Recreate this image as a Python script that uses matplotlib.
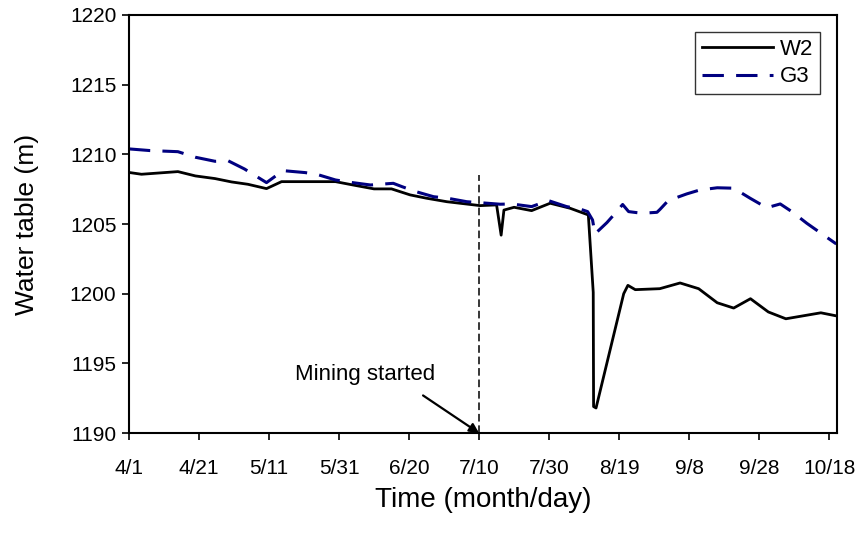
import matplotlib
matplotlib.use('Agg')
from matplotlib import pyplot as plt
from matplotlib.ticker import MultipleLocator

plt.rcParams['font.family'] = ['Liberation Sans', 'DejaVu Sans']

# days since 4/1
w2_day = [0, 3.6, 14, 19, 24.6, 29.3, 34, 39.3, 43.6, 50, 59, 64, 70, 75, 80.3, 85, 90.8,
          100.3, 105, 106.3, 107.1, 110, 115, 120.3, 126, 131.2, 132.6, 132.7, 133.4,
          141.3, 142.5, 144.6, 151.6, 157.4, 162.7, 168, 172.7, 177.5, 182.6, 187.6,
          197.6, 203]
w2_level = [1208.7, 1208.57, 1208.76, 1208.45, 1208.26, 1208.02, 1207.85, 1207.54, 1208.04,
            1208.04, 1208.04, 1207.8, 1207.52, 1207.52, 1207.09, 1206.85, 1206.6,
            1206.32, 1206.37, 1204.2, 1206.0, 1206.2, 1205.96, 1206.49, 1206.13, 1205.65,
            1200.1, 1191.9, 1191.8, 1200.0, 1200.6, 1200.29, 1200.36, 1200.77, 1200.36,
            1199.35, 1198.97, 1199.64, 1198.69, 1198.2, 1198.63, 1198.36]

g3_day = [0, 6, 14, 19, 24.6, 28.4, 33, 39.3, 44, 50.3, 53.6, 59, 63, 69, 72.7, 75.5, 78,
          82, 87, 91, 96.5, 100.3, 106, 109.3, 115, 119.8, 125, 129, 131, 132.4, 133.1,
          136.5, 139.3, 141, 142.7, 146.5, 150.8, 151.7, 154, 159.3, 163, 168, 172.7,
          177.4, 181.2, 182.2, 186, 189.3, 193.6, 197, 202]
g3_level = [1210.39, 1210.27, 1210.19, 1209.79, 1209.5, 1209.53, 1208.95, 1207.97, 1208.83,
            1208.69, 1208.57, 1208.16, 1208.0, 1207.8, 1207.87, 1207.92, 1207.68, 1207.32,
            1206.96, 1206.85, 1206.6, 1206.53, 1206.42, 1206.44, 1206.25, 1206.68, 1206.25,
            1206.06, 1205.89, 1205.29, 1204.29, 1205.1, 1205.89, 1206.4, 1205.89, 1205.77,
            1205.84, 1206.06, 1206.68, 1207.16, 1207.44, 1207.6, 1207.57, 1206.85, 1206.3,
            1206.17, 1206.44, 1205.89, 1205.05, 1204.45, 1203.57]

tick_labels = ['4/1', '4/21', '5/11', '5/31', '6/20', '7/10', '7/30', '8/19', '9/8', '9/28', '10/18']
mining_day = 100
mining_top = 1208.5

fig = plt.figure(figsize=(8.65, 5.34), dpi=100)
ax = fig.add_axes([0.149, 0.189, 0.819, 0.783])

ax.plot(w2_day, w2_level, color='black', lw=2.0, label='W2')
ax.plot(g3_day, g3_level, color='#000080', lw=2.2, dashes=[7, 4], label='G3')

ax.plot([mining_day, mining_day], [1190, mining_top], color='black', lw=1.1, dashes=[5, 2.5])
ax.annotate('', xy=(mining_day, 1190), xytext=(84, 1192.7),
            arrowprops=dict(arrowstyle='-|>', color='black', lw=1.6, mutation_scale=14,
                            shrinkA=0, shrinkB=0))
ax.text(67.5, 1194.2, 'Mining started', ha='center', va='center', fontsize=16)

ax.set_xlim(0, 202.3)
ax.set_ylim(1190, 1220)
ax.set_xticks(range(0, 201, 20))
ax.set_xticklabels(tick_labels)
ax.yaxis.set_major_locator(MultipleLocator(5))
ax.tick_params(direction='out', length=5, width=1.2, labelsize=15, pad=14)
ax.tick_params(axis='y', pad=4)
for s in ax.spines.values():
    s.set_linewidth(1.5)

ax.set_xlabel('Time (month/day)', fontsize=20, labelpad=6)
ax.set_ylabel('Water table (m)', fontsize=19, labelpad=22)

leg = ax.legend(loc='upper right', bbox_to_anchor=(0.975, 0.959), fontsize=16, frameon=True,
                fancybox=False, edgecolor='black', handlelength=3.2, borderaxespad=0,
                handletextpad=0.3, labelspacing=0.3, borderpad=0.3)
leg.get_frame().set_linewidth(1.0)

fig.savefig('out.png', dpi=100)
